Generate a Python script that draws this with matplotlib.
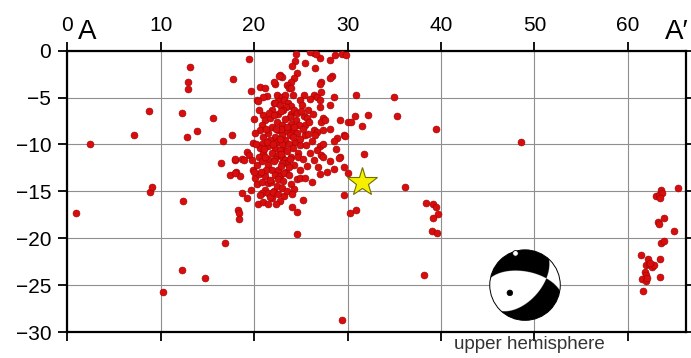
import numpy as np
import matplotlib
matplotlib.use('Agg')
import matplotlib.pyplot as plt
from matplotlib.patches import Circle

plt.rcParams['font.family'] = ['Liberation Sans', 'DejaVu Sans']

# hypocentres projected on profile A-A' : distance along profile (km), depth (km)
west_x = [0.9, 2.4, 7.1, 8.7, 8.9, 9.1, 10.2, 12.3, 12.3, 12.4, 12.8, 12.9, 12.9, 13.1,
          13.9, 14.7, 15.6, 16.5, 16.7, 16.9, 17.6, 17.7, 17.4, 17.9, 18.0]
west_y = [-17.3, -10.0, -9.0, -6.4, -15.1, -14.5, -25.7, -6.6, -23.4, -16.0, -9.2, -3.3, -4.1, -1.7,
          -8.6, -24.2, -7.2, -12.0, -9.6, -20.5, -9.0, -3.0, -13.3, -11.7, -11.5]

# upper part of the swarm (0-6 km)
upper_x = [19.4, 19.7, 20.6, 22.2, 22.8, 21.4, 21.0, 20.3, 22.4, 23.0, 22.6, 22.1,
           24.5, 24.4, 24.1, 25.4, 26.5, 26.4, 27.1, 28.1, 28.7, 29.4, 29.8, 24.6,
           24.3, 23.9, 23.5, 23.7, 23.0, 27.2, 27.0, 28.3, 28.1, 28.5, 26.4, 26.7,
           25.3, 24.2, 23.3, 24.9, 26.0, 27.1, 26.0, 26.6, 22.7, 22.1, 21.2, 23.9,
           27.2, 20.4, 22.2, 22.8, 23.2, 23.6, 24.0, 23.4, 25.1, 27.1, 28.1]
upper_y = [-0.9, -4.3, -3.9, -3.5, -2.6, -4.8, -4.9, -5.3, -4.7, -4.9, -5.4, -5.6,
           -0.4, -1.1, -1.6, -1.3, -1.8, -0.2, -0.75, -1.0, -0.45, -0.4, -0.5, -2.4,
           -2.9, -3.3, -3.7, -4.0, -2.8, -3.3, -3.5, -2.7, -2.9, -4.9, -4.7, -4.9,
           -4.7, -4.7, -4.7, -5.3, -5.1, -5.3, -0.1, -0.3, -2.7, -3.3, -4.0, -4.0,
           -4.4, -5.4, -5.6, -5.8, -5.3, -5.6, -5.9, -6.0, -5.8, -6.0, -5.8]

# dense core of the swarm
core_x = [23.1, 23.9, 25.3, 25.7, 27.4, 27.2, 27.6, 29.2, 25.5, 26.4, 26.7, 27.4,
          28.1, 24.2, 23.5, 24.6, 25.5, 26.5, 28.9, 29.6, 28.6, 23.3, 24.4, 23.1,
          24.9, 25.6, 27.1, 27.4, 26.7, 24.7, 26.0, 27.2, 29.2, 24.0, 30.1,
          19.9, 21.0, 21.2, 20.8, 20.6, 21.0, 20.8, 20.6, 21.0, 20.5, 19.2, 19.4,
          18.7, 21.9, 22.6, 21.7, 22.4, 23.0, 21.9, 22.6, 21.5, 22.2, 23.0, 21.7,
          22.4, 23.0, 21.5, 22.2, 22.8, 21.9, 22.6, 21.5, 22.2, 23.0,
          22.9, 24.3, 23.8, 23.3, 24.5, 23.9, 24.8, 23.5, 22.9, 24.3, 23.8, 24.2,
          22.8, 23.7, 24.2, 23.5, 22.9, 21.1, 21.4, 21.3, 21.6, 22.1, 22.3, 22.0,
          20.1, 20.2, 20.0, 20.5, 24.6, 25.0, 25.8, 26.3, 25.9, 25.2, 25.8, 26.2,
          24.9, 28.8]
core_y = [-6.3, -6.7, -7.0, -7.2, -7.2, -7.6, -7.4, -7.4, -7.9, -8.5, -8.7, -8.5,
          -8.3, -8.5, -8.6, -8.8, -9.0, -9.0, -9.3, -9.0, -9.6, -9.5, -9.7, -10.4,
          -10.1, -10.1, -10.2, -9.9, -10.6, -10.9, -10.9, -11.1, -11.3, -11.3, -7.6,
          -9.8, -6.9, -7.4, -7.9, -8.5, -9.2, -9.9, -10.4, -10.9, -11.3, -10.8, -11.1,
          -11.6, -6.3, -6.7, -7.2, -7.6, -7.9, -8.1, -8.5, -8.8, -9.2, -9.0, -9.5,
          -9.7, -10.0, -10.2, -10.4, -10.6, -10.9, -11.1, -11.5, -11.6, -11.3,
          -6.4, -6.3, -7.1, -7.3, -7.4, -7.8, -7.9, -8.1, -8.3, -8.1, -9.0, -9.2,
          -9.4, -9.9, -10.4, -10.7, -11.0, -10.5, -9.7, -8.3, -6.6, -6.9, -8.3, -10.0,
          -8.8, -10.0, -7.3, -6.3, -6.6, -6.4, -6.3, -6.8, -7.6, -8.4, -8.9, -9.6,
          -9.4, -10.5]

# lower part of the swarm (11-20 km)
lower_x = [23.3, 23.5, 24.7, 26.4, 27.4, 28.1, 29.1, 29.6, 24.9, 23.4, 24.6, 24.1,
           24.6, 18.9, 18.1, 18.5, 18.7, 19.2, 18.3, 18.4, 18.4, 19.7, 20.3, 20.1,
           20.5, 19.9, 20.3, 20.8, 21.2, 21.5, 22.1, 23.0, 21.9, 22.6, 22.2, 21.2,
           20.8, 21.5, 22.8, 21.2, 20.8, 21.5, 22.1, 20.4, 21.0, 21.5, 21.9, 18.0,
           20.6, 21.7, 22.0, 21.8, 24.6, 24.95, 23.8, 24.3, 23.7, 22.9, 23.2, 23.7,
           22.6, 23.1, 23.9, 22.4, 23.0, 22.6, 23.2, 22.8, 22.3, 23.5, 24.3, 21.7,
           21.3, 20.7, 19.8, 25.2, 25.7, 26.8, 27.8, 28.6, 25.4, 26.2, 27.0, 24.1,
           25.2, 20.0]
lower_y = [-11.7, -12.0, -11.3, -11.7, -11.3, -11.8, -11.4, -12.4, -12.7, -12.9, -13.7, -16.7,
           -17.2, -11.7, -12.9, -13.4, -15.2, -15.7, -17.0, -17.3, -17.9, -14.9, -14.2, -13.6,
           -13.1, -12.7, -12.2, -11.8, -11.3, -12.2, -11.8, -12.0, -12.7, -12.7, -13.3, -13.4,
           -14.0, -14.1, -13.4, -14.9, -15.2, -15.2, -15.0, -16.4, -16.1, -16.3, -15.7, -13.0,
           -15.4, -15.6, -15.1, -14.0, -19.6, -13.6, -11.6, -12.2, -12.4, -12.3, -13.0, -13.3,
           -13.7, -13.9, -14.2, -14.4, -14.6, -15.3, -15.5, -16.0, -16.4, -15.0, -14.8, -13.8,
           -12.7, -12.9, -11.7, -11.6, -12.3, -12.4, -12.9, -12.6, -13.6, -14.0, -13.2, -15.3,
           -15.9, -12.9]

# events east of the swarm
east_x = [30.9, 35.0, 35.3, 32.2, 30.8, 30.4, 31.5, 29.7, 39.5, 48.6, 31.8, 30.1,
          29.6, 30.3, 30.9, 36.2, 38.4, 39.1, 39.5, 39.7, 39.1, 39.0, 39.6, 38.2, 29.4]
east_y = [-4.7, -4.9, -7.0, -6.9, -7.0, -7.6, -8.0, -9.1, -8.4, -9.7, -11.0, -13.0,
          -15.4, -17.3, -17.0, -14.5, -16.2, -16.4, -16.7, -17.4, -17.8, -19.2, -19.4, -23.9, -28.7]

# events near A'
far_x = [63.05, 63.3, 63.6, 63.7, 63.4, 65.4, 63.9, 63.2, 63.3, 64.9, 63.6, 63.9, 61.4,
         62.2, 63.4, 61.9, 62.3, 62.6, 62.8, 61.8, 62.0, 61.5, 61.9, 62.1, 63.4, 61.6, 62.4]
far_y = [-15.5, -15.4, -14.85, -15.2, -15.7, -14.6, -17.8, -18.3, -18.5, -19.2, -20.5, -20.3, -21.8,
         -22.2, -22.2, -22.9, -22.7, -23.1, -22.9, -23.6, -23.9, -24.4, -24.6, -24.2, -24.1, -25.6, -22.6]

# mainshock
main_x, main_y = 31.5, -14.0

# focal mechanism: nodal planes as (strike direction, dip) in the projection
ball_x, ball_y = 49.0, -25.0
plane1_dir, plane1_dip = (0.98, -0.19), 60.0
plane2_dir, plane2_dip = (0.67, 0.77), 56.0

fig = plt.figure(figsize=(6.91, 3.58), dpi=100)
ax = fig.add_axes([0.0974, 0.0726, 0.8949, 0.7858])

ax.set_xlim(0, 66.2)
ax.set_ylim(-30, 0)
ax.set_xticks(np.arange(0, 61, 10))
ax.set_yticks(np.arange(0, -31, -5))
ax.grid(True, color='#8f8f8f', linewidth=0.8)
ax.set_axisbelow(True)
for sp in ax.spines.values():
    sp.set_linewidth(1.6)
ax.tick_params(direction='out', length=6.5, width=1.3, top=True, right=True,
               labeltop=True, labelbottom=False, labelsize=15, pad=5, colors='black')

for xs, ys in [(west_x, west_y), (upper_x, upper_y), (core_x, core_y),
               (lower_x, lower_y), (east_x, east_y), (far_x, far_y)]:
    ax.scatter(xs, ys, s=25, c='#d80d0d', edgecolors='#a00000', linewidths=0.4, zorder=3)

ax.plot(main_x, main_y, marker='*', ms=22, mfc='#f6f000', mec='#6f6f00', mew=0.8, zorder=4)

ax.text(0.017, 1.02, 'A', transform=ax.transAxes, fontsize=20, ha='left', va='bottom')
ax.text(0.966, 1.02, 'A\u2032', transform=ax.transAxes, fontsize=20, ha='left', va='bottom')
ax.text(49.5, -31.3, 'upper hemisphere', fontsize=13.5, color='#333333',
        ha='center', va='center', clip_on=False)

# beachball
def plane_normal(direction, dip):
    s = np.array([direction[0], direction[1], 0.0])
    s /= np.linalg.norm(s)
    p = np.array([s[1], -s[0], 0.0])
    if direction[1] < 0:
        p = -p
    d = np.cos(np.radians(dip)) * p + np.array([0, 0, np.sin(np.radians(dip))])
    return np.cross(s, d)

n1 = plane_normal(plane1_dir, plane1_dip)
n2 = plane_normal(plane2_dir, plane2_dip)

g = np.linspace(-1, 1, 601)
u, v = np.meshgrid(g, g)
r = np.sqrt(u**2 + v**2)
rr = np.where(r == 0, 1e-9, r)
theta = 2 * np.arcsin(np.clip(r / np.sqrt(2), 0, 1))
vx = np.sin(theta) * u / rr
vy = np.sin(theta) * v / rr
vz = np.cos(theta)
pol = (n1[0]*vx + n1[1]*vy + n1[2]*vz) * (n2[0]*vx + n2[1]*vy + n2[2]*vz)
img = np.ones((601, 601, 4))
img[pol > 0, :3] = 0.0

rad_x, rad_y = 3.78, 3.76
pad = 1.06
bax = ax.inset_axes([ball_x - rad_x*pad, ball_y - rad_y*pad, 2*rad_x*pad, 2*rad_y*pad],
                    transform=ax.transData, zorder=5)
bax.set_xlim(-pad, pad)
bax.set_ylim(-pad, pad)
bax.axis('off')
im = bax.imshow(img, extent=[-1, 1, -1, 1], origin='lower', interpolation='antialiased')
clip = Circle((0, 0), 1, transform=bax.transData)
im.set_clip_path(clip)
bax.add_patch(Circle((0, 0), 1, fill=False, ec='black', lw=0.7))
bax.add_patch(Circle((-0.27, 0.90), 0.08, fc='white', ec='black', lw=0.6))
bax.add_patch(Circle((-0.43, -0.22), 0.08, fc='black', ec='black', lw=0.5))

fig.savefig('out.png', dpi=100)
